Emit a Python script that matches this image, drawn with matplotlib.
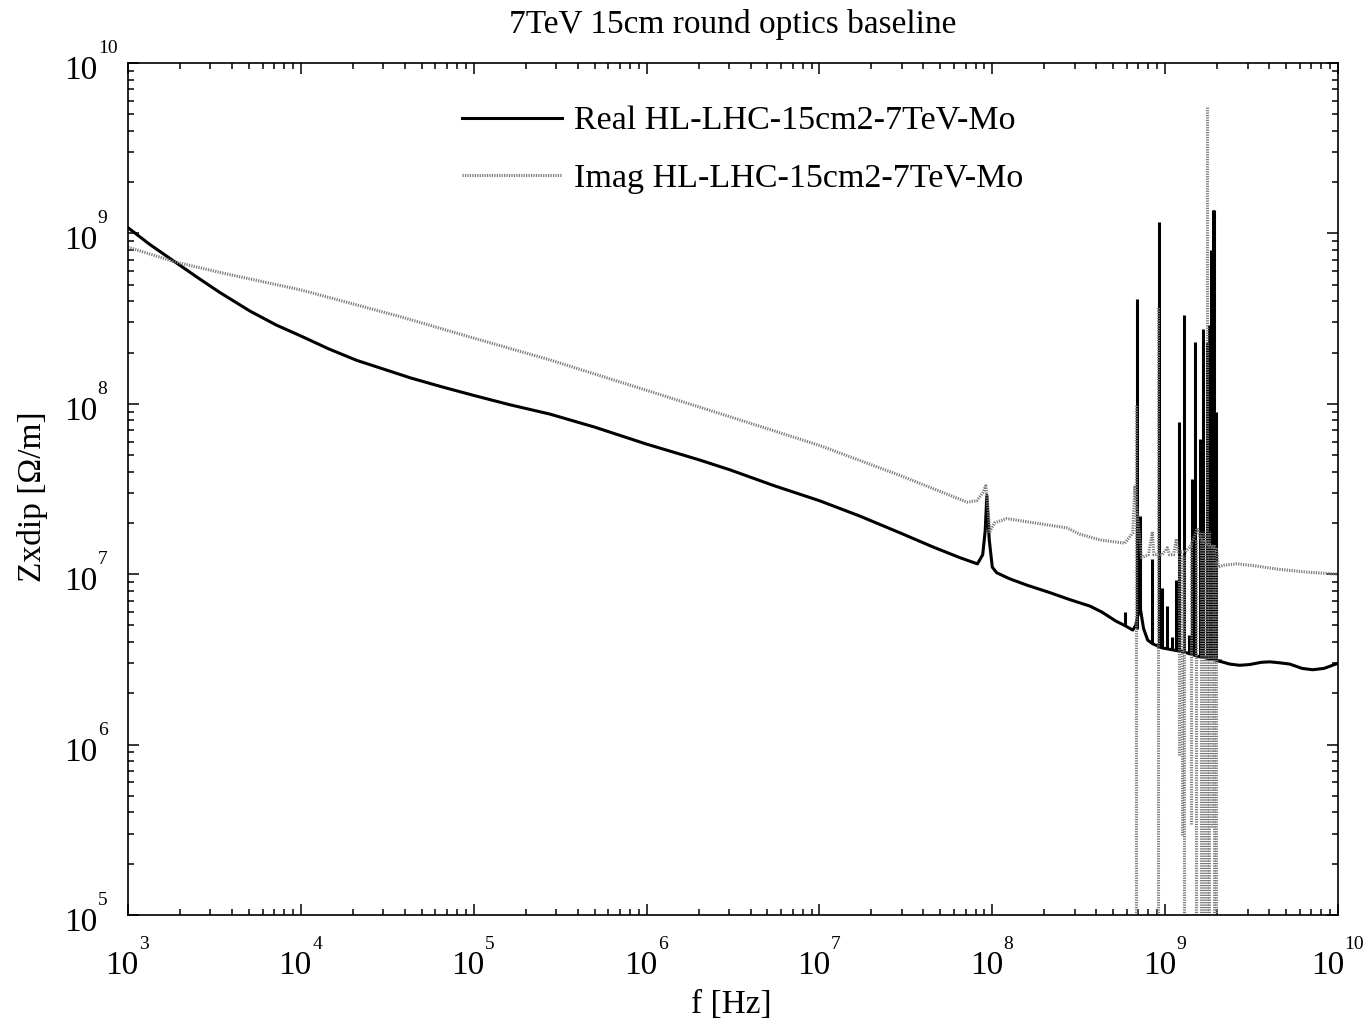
import matplotlib
matplotlib.use("Agg")
import matplotlib.pyplot as plt
from matplotlib.ticker import LogLocator, NullFormatter

plt.rcParams['font.family'] = ['Liberation Serif', 'DejaVu Serif']

# Real part of the dipolar impedance: smooth trend
real_freq = [1e3, 1.34e3, 1.87e3, 2.6e3, 3.4e3, 5.08e3, 7.2e3, 1e4, 1.45e4, 2.1e4,
             3.0e4, 4.3e4, 6.5e4, 1e5, 1.6e5, 2.76e5, 5e5, 1e6,
             2e6, 3.03e6, 5.5e6, 1e7, 1.7e7, 2.92e7, 4.5e7, 6.5e7, 8.2e7, 8.8e7,
             9.1e7, 9.3e7, 9.6e7, 1.0e8, 1.06e8, 1.26e8, 1.6e8, 2.15e8, 2.8e8,
             3.67e8, 4.3e8, 5.2e8, 5.84e8, 6.5e8, 6.75e8, 7.0e8, 7.2e8, 7.5e8,
             7.93e8, 8.5e8, 9.55e8, 1.1e9, 1.28e9, 1.54e9, 1.92e9, 2.36e9, 2.7e9,
             3.08e9, 3.6e9, 4.03e9, 4.6e9, 5.25e9, 6.2e9, 7.14e9, 8.3e9, 1e10]
real_z = [1.08e9, 8.6e8, 6.8e8, 5.4e8, 4.5e8, 3.5e8, 2.9e8, 2.5e8, 2.1e8, 1.8e8,
          1.6e8, 1.42e8, 1.26e8, 1.12e8, 9.9e7, 8.7e7, 7.3e7, 5.8e7,
          4.7e7, 4.1e7, 3.3e7, 2.7e7, 2.2e7, 1.75e7, 1.45e7, 1.25e7, 1.15e7, 1.3e7,
          1.8e7, 2.9e7, 1.6e7, 1.1e7, 1.02e7, 9.4e6, 8.6e6, 7.8e6, 7.1e6,
          6.5e6, 6.0e6, 5.3e6, 5.0e6, 4.7e6, 5.0e6, 5.9e6, 6.2e6, 4.8e6,
          4.1e6, 3.9e6, 3.7e6, 3.6e6, 3.5e6, 3.3e6, 3.15e6, 2.97e6, 2.92e6,
          2.95e6, 3.04e6, 3.06e6, 3.02e6, 2.97e6, 2.8e6, 2.75e6, 2.8e6, 3.0e6]

# Real part: narrow high-order resonances
real_peak_freq = [5.84e8, 6.86e8, 7.2e8, 8.44e8, 9.22e8, 9.55e8, 1.03e9, 1.09e9,
                  1.16e9, 1.21e9, 1.28e9, 1.37e9, 1.43e9, 1.49e9, 1.60e9, 1.65e9,
                  1.74e9, 1.77e9, 1.80e9, 1.84e9, 1.88e9, 1.92e9, 1.98e9, 2.09e9]
real_peak_base = [5.0e6, 4.8e6, 6.0e6, 3.9e6, 3.75e6, 3.7e6, 3.65e6, 3.6e6,
                  3.55e6, 3.5e6, 3.5e6, 3.4e6, 3.4e6, 3.35e6, 3.3e6, 3.3e6,
                  3.25e6, 3.25e6, 3.2e6, 3.2e6, 3.15e6, 3.15e6, 3.1e6, 3.05e6]
real_peak_top = [6.0e6, 4.1e8, 2.2e7, 1.23e7, 1.17e9, 8.3e6, 6.5e6, 4.3e6,
                 9.3e6, 7.8e7, 3.3e8, 4.4e6, 3.6e7, 2.3e8, 6.2e7, 2.75e8,
                 2.3e8, 2.3e8, 2.9e8, 8.0e8, 1.38e9, 1.38e9, 8.9e7, 3.2e6]

# Imaginary part: smooth trend
imag_freq = [1e3, 1.87e3, 3.4e3, 1e4, 3.74e4, 1e5, 2.76e5, 1e6, 3.03e6, 1e7,
             2.92e7, 7.13e7, 8.13e7, 8.8e7, 9.17e7, 9.42e7, 9.67e7, 1.03e8,
             1.21e8, 2.7e8, 3.2e8, 4.19e8, 5.84e8, 6.5e8, 6.67e8, 7.3e8, 8.0e8,
             8.44e8, 8.6e8, 9.6e8, 1.03e9, 1.06e9, 1.12e9, 1.16e9, 1.19e9, 1.3e9,
             1.4e9, 1.54e9, 1.6e9, 1.98e9, 2.03e9, 2.2e9, 2.6e9, 3.3e9, 4.5e9,
             6.5e9, 1e10]
imag_z = [8.3e8, 6.8e8, 5.9e8, 4.66e8, 3.25e8, 2.43e8, 1.81e8, 1.2e8, 8.4e7, 5.7e7,
          3.8e7, 2.65e7, 2.7e7, 3.0e7, 3.3e7, 2.5e7, 1.78e7, 2.0e7,
          2.12e7, 1.87e7, 1.72e7, 1.59e7, 1.52e7, 1.75e7, 3.25e7, 1.25e7, 1.3e7,
          1.78e7, 1.3e7, 1.3e7, 1.43e7, 1.3e7, 1.3e7, 1.61e7, 1.35e7, 1.35e7,
          1.45e7, 1.86e7, 1.6e7, 1.4e7, 1.1e7, 1.13e7, 1.15e7, 1.12e7, 1.07e7,
          1.03e7, 1.0e7]

# Imaginary part: resonances (values below 1e5 are off the bottom of the scale)
imag_peak_freq = [6.80e8, 9.15e8, 1.21e9, 1.25e9, 1.29e9, 1.42e9, 1.50e9, 1.62e9,
                  1.67e9, 1.74e9, 1.80e9, 1.86e9, 1.92e9, 1.98e9]
imag_peak_low = [1e4, 1e4, 8.7e5, 2.95e5, 1e4, 3.4e5, 1e4, 1e4,
                 1e4, 1e4, 1e4, 3.3e5, 1e4, 1e4]
imag_peak_high = [1.0e8, 3.7e8, 1.3e7, 1.3e7, 1.3e7, 1.5e7, 1.6e7, 1.8e7,
                  1.8e7, 5.5e9, 1.8e7, 1.5e7, 1.5e7, 1.2e7]

decades = [3, 4, 5, 6, 7, 8, 9, 10]
ydecades = [5, 6, 7, 8, 9, 10]

W, H = 1370, 1024
fig = plt.figure(figsize=(W / 100, H / 100), dpi=100)
ax = fig.add_axes([128 / W, 1 - 915 / H, 1210 / W, 852 / H])

lw = 2.2
imag_color = '#7a7a7a'
imag_dash = (0, (0.4, 0.4))

real_line, = ax.plot(real_freq, real_z, color='black', lw=lw,
                     solid_joinstyle='round', label='Real HL-LHC-15cm2-7TeV-Mo')
ax.vlines(real_peak_freq, real_peak_base, real_peak_top, colors='black', lw=lw)

imag_line, = ax.plot(imag_freq, imag_z, color=imag_color, lw=lw, linestyle=imag_dash,
                     label='Imag HL-LHC-15cm2-7TeV-Mo')
ax.vlines(imag_peak_freq, imag_peak_low, imag_peak_high, colors=imag_color,
          lw=lw, linestyles=[imag_dash])

ax.set_xscale('log')
ax.set_yscale('log')
ax.set_xlim(1e3, 1e10)
ax.set_ylim(1e5, 1e10)

for axis in (ax.xaxis, ax.yaxis):
    axis.set_major_locator(LogLocator(base=10, numticks=20))
    axis.set_minor_locator(LogLocator(base=10, subs=range(2, 10), numticks=20))
    axis.set_major_formatter(NullFormatter())
    axis.set_minor_formatter(NullFormatter())
ax.tick_params(which='both', direction='in', top=True, right=True, width=1.1, color='black')
ax.tick_params(which='major', length=8)
ax.tick_params(which='minor', length=4.3)
for s in ax.spines.values():
    s.set_linewidth(1.2)

# decade labels drawn as "10" plus a small raised exponent
for d in decades:
    exp_w = 7.0 * len(str(d))
    right = (22.5 + exp_w) / 2 - exp_w
    ax.annotate('10', xy=(10.0 ** d, 0), xycoords=ax.get_xaxis_transform(),
                xytext=(right, -42.5), textcoords='offset points',
                ha='right', va='baseline', fontsize=24, annotation_clip=False)
    ax.annotate(str(d), xy=(10.0 ** d, 0), xycoords=ax.get_xaxis_transform(),
                xytext=(right + 0.5, -24.5), textcoords='offset points',
                ha='left', va='baseline', fontsize=14, annotation_clip=False)
for d in ydecades:
    ax.annotate('10', xy=(0, 10.0 ** d), xycoords=ax.get_yaxis_transform(),
                xytext=(-22.3, -11.5), textcoords='offset points',
                ha='right', va='baseline', fontsize=24, annotation_clip=False)
    ax.annotate(str(d), xy=(0, 10.0 ** d), xycoords=ax.get_yaxis_transform(),
                xytext=(-21.8, 7.2), textcoords='offset points',
                ha='left', va='baseline', fontsize=14, annotation_clip=False)

fig.text(733 / W, 1 - 33 / H, '7TeV 15cm round optics baseline',
         ha='center', va='baseline', fontsize=24)
fig.text(731 / W, 1 - 1013 / H, 'f [Hz]', ha='center', va='baseline', fontsize=24)
fig.text(33 / W, 1 - 497 / H, 'Zxdip [Ω/m]', ha='center', va='center',
         rotation=90, fontsize=24)

ax.legend(handles=[real_line, imag_line], loc='upper left',
          bbox_to_anchor=(462 / W, 1 - 106 / H), bbox_transform=fig.transFigure,
          frameon=False, fontsize=24.5, handlelength=2.95, handletextpad=0.33,
          labelspacing=0.78, borderpad=0, borderaxespad=0)

fig.savefig('out.png', dpi=100)
